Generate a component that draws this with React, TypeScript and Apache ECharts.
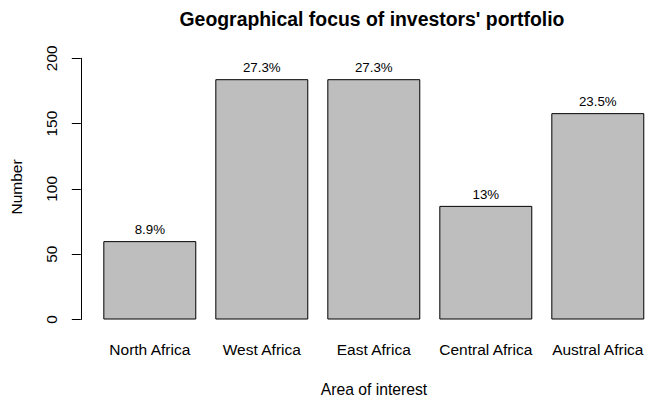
import React, { useEffect, useRef } from "react";
import * as echarts from "echarts";

const categories = ["North Africa", "West Africa", "East Africa", "Central Africa", "Austral Africa"];
const counts = [60, 184, 184, 87, 158];
const pctLabels = ["8.9%", "27.3%", "27.3%", "13%", "23.5%"];
const yTicks = { min: 0, max: 200, interval: 50 };

const FONT = "'Liberation Sans', Arial, sans-serif";

export default function App() {
  const ref = useRef<HTMLDivElement>(null);
  useEffect(() => {
    if (!ref.current) return;
    const chart = echarts.init(ref.current, null, { renderer: "svg" });
    chart.setOption({
      animation: false,
      backgroundColor: "#ffffff",
      textStyle: { fontFamily: FONT },
      grid: { left: 93.8, top: 58.3, bottom: 81.5, width: 560, outerBoundsMode: "none", containLabel: false },
      xAxis: {
        type: "category",
        data: categories,
        axisLine: { show: false },
        axisTick: { show: false },
        axisLabel: { fontSize: 15.5, color: "#000", margin: 21.6, fontFamily: FONT, interval: 0 },
      },
      yAxis: {
        type: "value",
        min: yTicks.min,
        max: yTicks.max,
        interval: yTicks.interval,
        offset: 13,
        splitLine: { show: false },
        axisLine: { show: true, lineStyle: { color: "#000", width: 1 } },
        axisTick: { show: true, length: 9, lineStyle: { color: "#000" } },
        axisLabel: { rotate: 90, fontSize: 15.4, color: "#000", margin: 21.6, fontFamily: FONT },
      },
      series: [
        {
          type: "bar",
          data: counts,
          barCategoryGap: "17%",
          itemStyle: { color: "#bebebe", borderColor: "#000", borderWidth: 1 },
          label: {
            show: true,
            position: "top",
            distance: 5,
            fontSize: 13.3,
            color: "#000",
            fontFamily: FONT,
            formatter: (p: any) => pctLabels[p.dataIndex],
          },
        },
      ],
      graphic: [
        {
          type: "text",
          x: 372,
          y: 19,
          style: {
            text: "Geographical focus of investors' portfolio",
            font: `bold 19.4px ${FONT}`,
            fill: "#000",
            textAlign: "center",
            textVerticalAlign: "middle",
          },
        },
        {
          type: "text",
          x: 374,
          y: 389,
          style: {
            text: "Area of interest",
            font: `15.7px ${FONT}`,
            fill: "#000",
            textAlign: "center",
            textVerticalAlign: "middle",
          },
        },
        {
          type: "text",
          x: 16,
          y: 187,
          rotation: Math.PI / 2,
          style: {
            text: "Number",
            font: `15.5px ${FONT}`,
            fill: "#000",
            textAlign: "center",
            textVerticalAlign: "middle",
          },
        },
      ],
    });
    return () => chart.dispose();
  }, []);
  return (
    <div
      ref={ref}
      style={{ position: "fixed", left: 0, top: 0, width: 645, height: 401, background: "#fff" }}
    />
  );
}
